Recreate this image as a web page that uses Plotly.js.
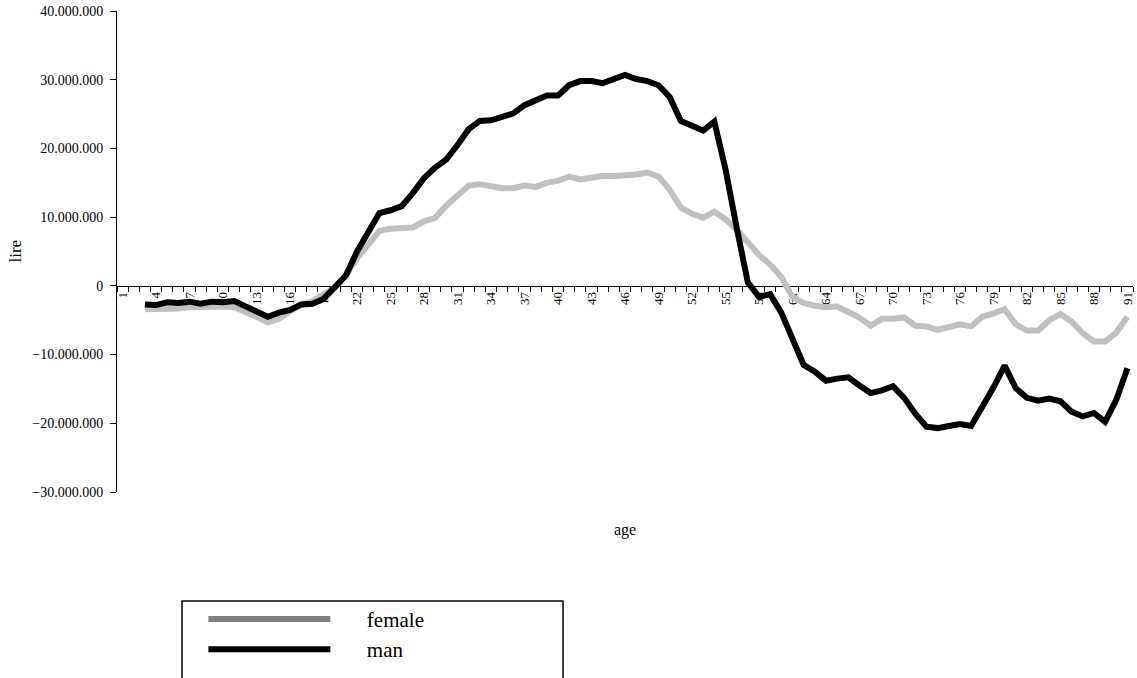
<!DOCTYPE html>
<html>
<head>
<meta charset="utf-8">
<script src="https://cdn.plot.ly/plotly-3.0.1.min.js"></script>
<style>html,body{margin:0;padding:0;background:#fff;}#chart{width:1137px;height:678px;}</style>
</head>
<body>
<div id="chart"></div>
<script>
// Ages 1..91 (categories); data begins at age 3
const ages = Array.from({length: 91}, (_, i) => i + 1);
const tickAges = [1,4,7,10,13,16,19,22,25,28,31,34,37,40,43,46,49,52,55,58,61,64,67,70,73,76,79,82,85,88,91];

// values in millions of lire, ages 3..91
const femaleM = [
  -3.4,-3.4,-3.3,-3.3,-3.1,-3.0,-2.9,-3.0,-3.1,-3.7,-4.5,-5.3,-4.8,-3.7,-2.8,-2.2,-1.2,
  -0.3,1.5,4.0,6.0,8.0,8.3,8.5,8.5,9.4,9.9,11.7,13.2,14.6,14.8,14.5,14.2,14.2,14.6,14.4,
  15.0,15.3,15.9,15.5,15.8,16.0,16.0,16.0,16.2,16.5,15.9,14.0,11.4,10.5,9.9,10.8,9.7,8.2,
  6.3,4.5,3.1,1.3,-1.6,-2.5,-2.9,-3.1,-3.0,-3.7,-4.6,-5.8,-4.8,-4.8,-4.6,-5.8,-5.9,-6.4,
  -6.0,-5.6,-5.9,-4.5,-4.0,-3.4,-5.6,-6.5,-6.5,-5.0,-4.1,-5.2,-6.9,-8.1,-8.1,-6.8,-4.5
];
const manM = [
  -2.7,-2.8,-2.4,-2.5,-2.3,-2.6,-2.3,-2.4,-2.2,-2.9,-3.7,-4.5,-3.9,-3.5,-2.7,-2.6,-1.9,
  -0.3,1.5,5.0,8.0,10.6,11.0,11.6,13.5,15.7,17.2,18.4,20.5,22.8,24.0,24.1,24.6,25.1,26.3,27.0,
  27.7,27.7,29.2,29.8,29.8,29.5,30.1,30.7,30.1,29.8,29.2,27.5,24.0,23.3,22.6,23.9,17.0,8.5,
  0.5,-1.6,-1.2,-3.9,-7.7,-11.5,-12.5,-13.8,-13.5,-13.3,-14.5,-15.6,-15.2,-14.6,-16.3,-18.6,-20.5,-20.7,
  -20.4,-20.1,-20.4,-17.7,-14.8,-11.6,-14.9,-16.3,-16.7,-16.4,-16.8,-18.3,-19.0,-18.5,-19.8,-16.6,-12.0
];

const femaleY = [null, null].concat(femaleM.map(v => v * 1e6));
const manY = [null, null].concat(manM.map(v => v * 1e6));

const font = "'Liberation Serif', 'Times New Roman', serif";
const pad = '\u00a0\u00a0\u00a0\u00a0\u00a0\u00a0';

const traces = [
  {x: ages, y: femaleY, type: 'scatter', mode: 'lines', name: 'female', showlegend: false,
   line: {color: '#c0c0c0', width: 6}},
  {x: ages, y: manY, type: 'scatter', mode: 'lines', name: 'man', showlegend: false,
   line: {color: '#000000', width: 6}},
  {x: [null], y: [null], type: 'scatter', mode: 'lines', name: pad + 'female',
   line: {color: '#808080', width: 6}},
  {x: [null], y: [null], type: 'scatter', mode: 'lines', name: pad + 'man',
   line: {color: '#000000', width: 6}}
];

const layout = {
  width: 1137, height: 678,
  margin: {l: 117, r: 4, t: 11, b: 186},
  paper_bgcolor: '#fff', plot_bgcolor: '#fff',
  separators: ',.',
  font: {family: font, color: '#000', size: 13},
  showlegend: true,
  legend: {
    x: 0.085, y: -0.222, xanchor: 'left', yanchor: 'top',
    bgcolor: 'rgba(0,0,0,0)', borderwidth: 0,
    font: {family: font, size: 21, color: '#000'},
    itemwidth: 122, tracegroupgap: 0
  },
  xaxis: {
    range: [0.5, 91.5],
    anchor: 'free', position: 3 / 7,
    showline: true, linecolor: '#000', linewidth: 1,
    showgrid: false, zeroline: false,
    tickmode: 'array', tickvals: tickAges, ticktext: tickAges.map(String),
    ticks: '', tickangle: -90,
    tickfont: {family: font, size: 13, color: '#000'},
    minor: {ticks: 'outside', tick0: 0.5, dtick: 1, ticklen: 5, tickcolor: '#000', tickwidth: 1, showgrid: false},
    layer: 'below traces'
  },
  yaxis: {
    range: [-30e6, 40e6],
    tickvals: [-30e6,-20e6,-10e6,0,10e6,20e6,30e6,40e6],
    tickformat: ',d',
    showline: true, linecolor: '#000', linewidth: 1,
    ticks: 'outside', ticklen: 6, tickcolor: '#000',
    ticklabelstandoff: 4,
    showgrid: false, zeroline: false,
    tickfont: {family: font, size: 14, color: '#000'},
    layer: 'below traces'
  },
  annotations: [
    {text: 'age', xref: 'paper', yref: 'paper', x: 0.5, y: 0, yshift: -38, showarrow: false,
     font: {family: font, size: 16, color: '#000'}, xanchor: 'center', yanchor: 'middle'},
    {text: 'lire', xref: 'paper', yref: 'paper', x: 0, y: 0.5, xshift: -102, showarrow: false,
     textangle: -90, font: {family: font, size: 17, color: '#000'}, xanchor: 'center', yanchor: 'middle'}
  ],
  shapes: [
    {type: 'rect', xref: 'paper', yref: 'paper', x0: 0.064, x1: 0.439, y0: -0.395, y1: -0.2266,
     line: {color: '#000', width: 1.5}, fillcolor: 'rgba(0,0,0,0)'}
  ]
};

Plotly.newPlot('chart', traces, layout, {displayModeBar: false, staticPlot: true});
</script>
</body>
</html>
